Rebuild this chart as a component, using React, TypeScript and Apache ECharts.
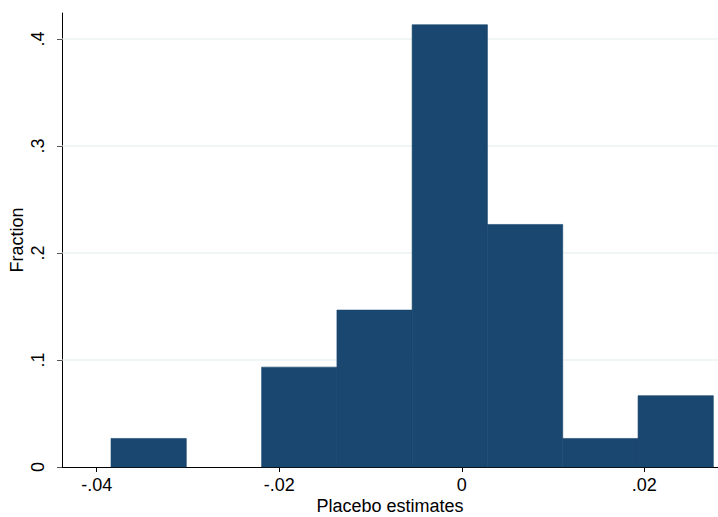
import React, { useEffect, useRef } from "react";
import * as echarts from "echarts";

const binStarts = [-0.03843, -0.03018, -0.02193, -0.01368, -0.00544, 0.00281, 0.01106, 0.01931];
const binWidth = 0.008249;
const fractions = [2 / 75, 0, 7 / 75, 11 / 75, 31 / 75, 17 / 75, 2 / 75, 5 / 75];
const xTicks = [-0.04, -0.02, 0, 0.02];
const yTicks = [0, 0.1, 0.2, 0.3, 0.4];
const gridValues = [0.1, 0.2, 0.3, 0.4];

const fmt = (v: number) => {
  if (Math.abs(v) < 1e-12) return "0";
  return String(Number(v.toFixed(4))).replace("0.", ".");
};

const FONT = '"Liberation Sans", Arial, Helvetica, sans-serif';

export default function App() {
  const ref = useRef<HTMLDivElement>(null);
  useEffect(() => {
    document.body.style.margin = "0";
    if (!ref.current) return;
    const chart = echarts.init(ref.current, null, { renderer: "svg" });
    const barData = binStarts.map((s, i) => [s, s + binWidth, fractions[i]]);
    chart.setOption({
      animation: false,
      backgroundColor: "#ffffff",
      textStyle: { fontFamily: FONT },
      grid: { left: 62, right: 0, top: 13, bottom: 50, outerBoundsMode: "none", containLabel: false },
      xAxis: {
        type: "value",
        min: -0.0438,
        max: 0.02807,
        name: "Placebo estimates",
        nameLocation: "middle",
        nameGap: 30,
        nameMoveOverlap: false,
        nameTextStyle: { fontSize: 18, color: "#000", fontFamily: FONT },
        axisLine: { show: true, onZero: false, lineStyle: { color: "#000", width: 1 } },
        axisTick: { show: true, length: 5, customValues: xTicks, lineStyle: { color: "#000" } },
        axisLabel: {
          customValues: xTicks,
          formatter: (v: number) => fmt(v),
          fontSize: 18,
          color: "#000",
          margin: 9,
          fontFamily: FONT,
        },
        splitLine: { show: false },
      },
      yAxis: {
        type: "value",
        min: 0,
        max: 0.4243,
        name: "Fraction",
        nameLocation: "middle",
        nameRotate: 90,
        nameGap: 36,
        nameMoveOverlap: false,
        nameTextStyle: { fontSize: 18, color: "#000", fontFamily: FONT },
        axisLine: { show: true, onZero: false, lineStyle: { color: "#000", width: 1 } },
        axisTick: { show: true, length: 5, customValues: yTicks, lineStyle: { color: "#555" } },
        axisLabel: {
          customValues: yTicks,
          formatter: (v: number) => fmt(v),
          rotate: 90,
          fontSize: 18,
          color: "#000",
          margin: 15,
          fontFamily: FONT,
        },
        splitLine: { show: false },
      },
      series: [
        {
          type: "custom",
          z: 1,
          silent: true,
          data: gridValues.map((v) => [v]),
          renderItem: (params: any, api: any) => {
            const y = api.coord([0, api.value(0)])[1];
            const cs = params.coordSys;
            return {
              type: "line",
              shape: { x1: cs.x, y1: y, x2: cs.x + cs.width, y2: y },
              style: { stroke: "#e1edee", lineWidth: 1.2 },
            };
          },
        },
        {
          type: "custom",
          z: 2,
          data: barData,
          renderItem: (params: any, api: any) => {
            const v = api.value(2);
            if (!v) return null;
            const p0 = api.coord([api.value(0), v]);
            const p1 = api.coord([api.value(1), 0]);
            return {
              type: "rect",
              shape: { x: p0[0], y: p0[1], width: p1[0] - p0[0], height: p1[1] - p0[1] },
              style: { fill: "#1a476f", stroke: "#1a476f", lineWidth: 0.6 },
            };
          },
        },
      ],
    });
    return () => chart.dispose();
  }, []);
  return <div ref={ref} style={{ width: 718, height: 517 }} />;
}
